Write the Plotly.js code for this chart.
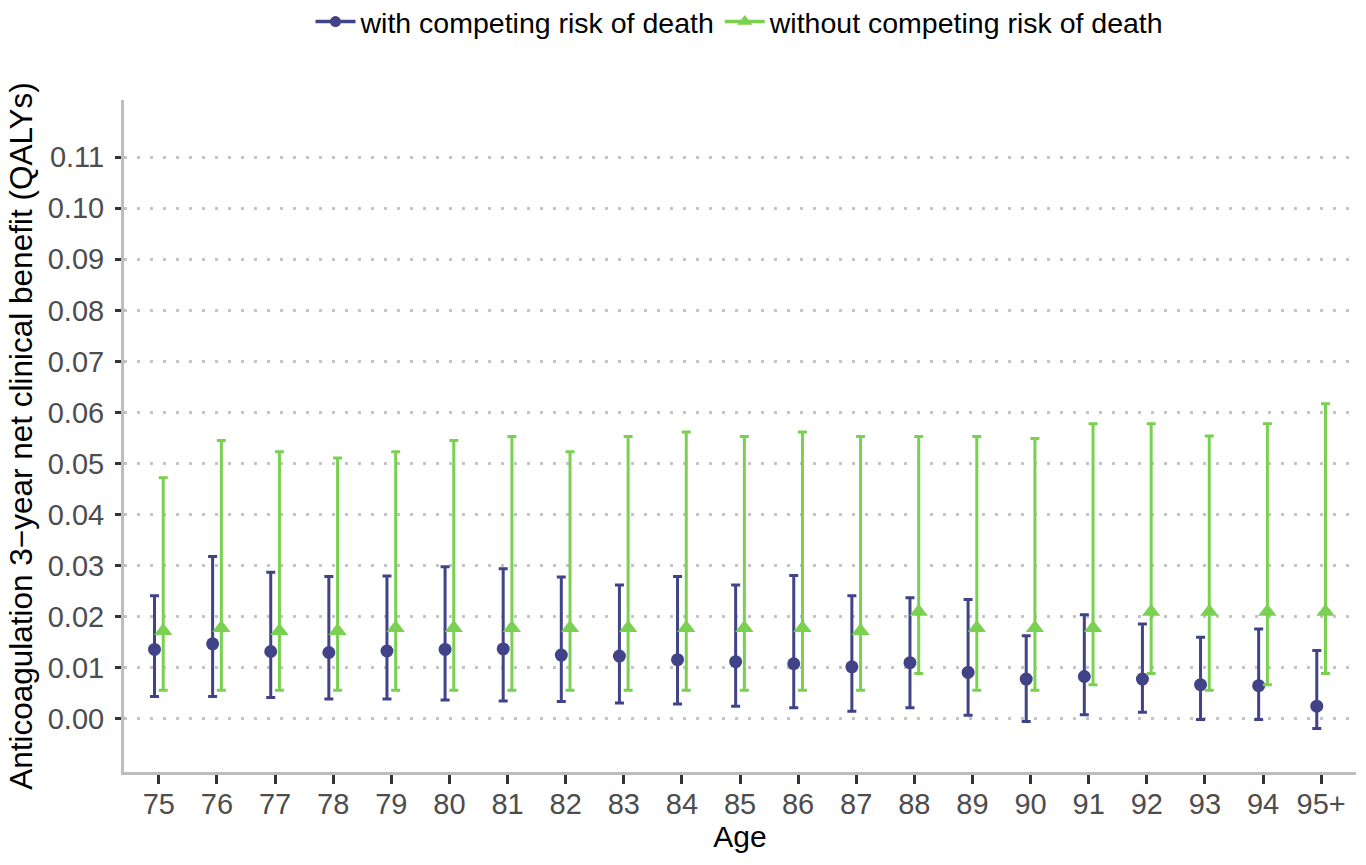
<!DOCTYPE html>
<html>
<head>
<meta charset="utf-8">
<script src="https://cdn.plot.ly/plotly-3.0.1.min.js"></script>
<style>
  html, body { margin: 0; padding: 0; background: #fff; }
  #chart { width: 1366px; height: 865px; }
</style>
</head>
<body>
<div id="chart"></div>
<script>
// Age groups on the x axis
const ages = ["75", "76", "77", "78", "79", "80", "81", "82", "83", "84", "85",
              "86", "87", "88", "89", "90", "91", "92", "93", "94", "95+"];

// Net clinical benefit (QALYs) accounting for competing risk of death
const withMean = [0.0136, 0.0147, 0.0132, 0.0130, 0.0133, 0.0136, 0.0137, 0.0125, 0.0123, 0.0116, 0.0112,
                  0.0108, 0.0102, 0.0110, 0.0091, 0.0078, 0.0083, 0.0078, 0.0067, 0.0065, 0.0025];
const withLow  = [0.0044, 0.0044, 0.0042, 0.0039, 0.0039, 0.0037, 0.0035, 0.0034, 0.0031, 0.0029, 0.0025,
                  0.0022, 0.0015, 0.0022, 0.0007, -0.0005, 0.0008, 0.0013, -0.0001, -0.0001, -0.0019];
const withHigh = [0.0241, 0.0318, 0.0287, 0.0279, 0.0280, 0.0298, 0.0294, 0.0278, 0.0262, 0.0279, 0.0262,
                  0.0281, 0.0241, 0.0237, 0.0234, 0.0163, 0.0204, 0.0186, 0.0160, 0.0176, 0.0134];

// Net clinical benefit (QALYs) ignoring competing risk of death
const withoutMean = [0.0172, 0.0178, 0.0172, 0.0172, 0.0178, 0.0178, 0.0178, 0.0178, 0.0178, 0.0178, 0.0178,
                     0.0178, 0.0172, 0.0210, 0.0178, 0.0178, 0.0178, 0.0210, 0.0210, 0.0210, 0.0210];
const withoutLow  = [0.0056, 0.0056, 0.0056, 0.0056, 0.0056, 0.0056, 0.0056, 0.0056, 0.0056, 0.0056, 0.0056,
                     0.0056, 0.0056, 0.0089, 0.0056, 0.0056, 0.0067, 0.0089, 0.0056, 0.0067, 0.0089];
const withoutHigh = [0.0472, 0.0545, 0.0523, 0.0511, 0.0523, 0.0545, 0.0553, 0.0523, 0.0553, 0.0562, 0.0553,
                     0.0562, 0.0553, 0.0553, 0.0553, 0.0549, 0.0578, 0.0578, 0.0554, 0.0578, 0.0617];

const yTicks = [0, 0.01, 0.02, 0.03, 0.04, 0.05, 0.06, 0.07, 0.08, 0.09, 0.10, 0.11];

const BLUE = "#404387";
const GREEN = "#7AD151";
const DODGE = 0.075;
const FONT = "Liberation Sans, Arial, sans-serif";

const idx = ages.map((_, i) => i);

function errTrace(name, mean, lo, hi, shift, color, symbol, size) {
  return {
    type: "scatter",
    mode: "markers",
    name: name,
    showlegend: false,
    x: idx.map(i => i + shift),
    y: mean,
    marker: { color: color, symbol: symbol, size: size },
    error_y: {
      type: "data",
      symmetric: false,
      array: hi.map((h, i) => h - mean[i]),
      arrayminus: lo.map((l, i) => mean[i] - l),
      color: color,
      thickness: 3,
      width: 4.5
    },
    hoverinfo: "x+y"
  };
}

function legendTrace(name, color, symbol, size) {
  return {
    type: "scatter",
    mode: "lines+markers",
    name: name,
    x: [null],
    y: [null],
    line: { color: color, width: 3.5 },
    marker: { color: color, symbol: symbol, size: size }
  };
}

const traces = [
  errTrace("with competing risk of death", withMean, withLow, withHigh, -DODGE, BLUE, "circle", 13),
  errTrace("without competing risk of death", withoutMean, withoutLow, withoutHigh, DODGE, GREEN, "triangle-up", 16),
  legendTrace("with competing risk of death", BLUE, "circle", 11),
  legendTrace("without competing risk of death", GREEN, "triangle-up", 13)
];

const layout = {
  width: 1366,
  height: 865,
  paper_bgcolor: "#ffffff",
  plot_bgcolor: "#ffffff",
  margin: { l: 124, r: 10, t: 100, b: 93, autoexpand: false },
  font: { family: FONT, color: "#000" },
  showlegend: true,
  legend: {
    orientation: "h",
    x: 0.5, xanchor: "center",
    y: 1.116, yanchor: "middle",
    font: { family: FONT, size: 28.5, color: "#000" },
    itemwidth: 40,
    tracegroupgap: 0,
    bgcolor: "rgba(0,0,0,0)"
  },
  xaxis: {
    range: [-0.6, 20.6],
    tickmode: "array",
    tickvals: idx,
    ticktext: ages,
    showgrid: false,
    zeroline: false,
    showline: true,
    linecolor: "#bdbdbd",
    linewidth: 3,
    ticks: "outside",
    ticklen: 9,
    tickwidth: 3,
    tickcolor: "#333",
    ticklabelstandoff: -5,
    tickfont: { family: FONT, size: 29, color: "#4d4d4d" },
    title: { text: "Age", font: { family: FONT, size: 30, color: "#000" }, standoff: 8 }
  },
  yaxis: {
    range: [-0.0104, 0.1212],
    tickmode: "array",
    tickvals: yTicks,
    ticktext: yTicks.map(v => v.toFixed(2)),
    showgrid: true,
    gridcolor: "#c4c4c4",
    gridwidth: 3,
    griddash: "3px,10px",
    zeroline: false,
    showline: true,
    linecolor: "#bdbdbd",
    linewidth: 3,
    ticks: "outside",
    ticklen: 6,
    tickwidth: 3,
    tickcolor: "#333",
    ticklabelstandoff: 5,
    tickfont: { family: FONT, size: 29, color: "#4d4d4d" },
    title: {
      text: "Anticoagulation 3\u2212year net clinical benefit (QALYs)",
      font: { family: FONT, size: 31.5, color: "#000" },
      standoff: 6
    }
  }
};

Plotly.newPlot("chart", traces, layout, { displayModeBar: false, staticPlot: true });
</script>
</body>
</html>
